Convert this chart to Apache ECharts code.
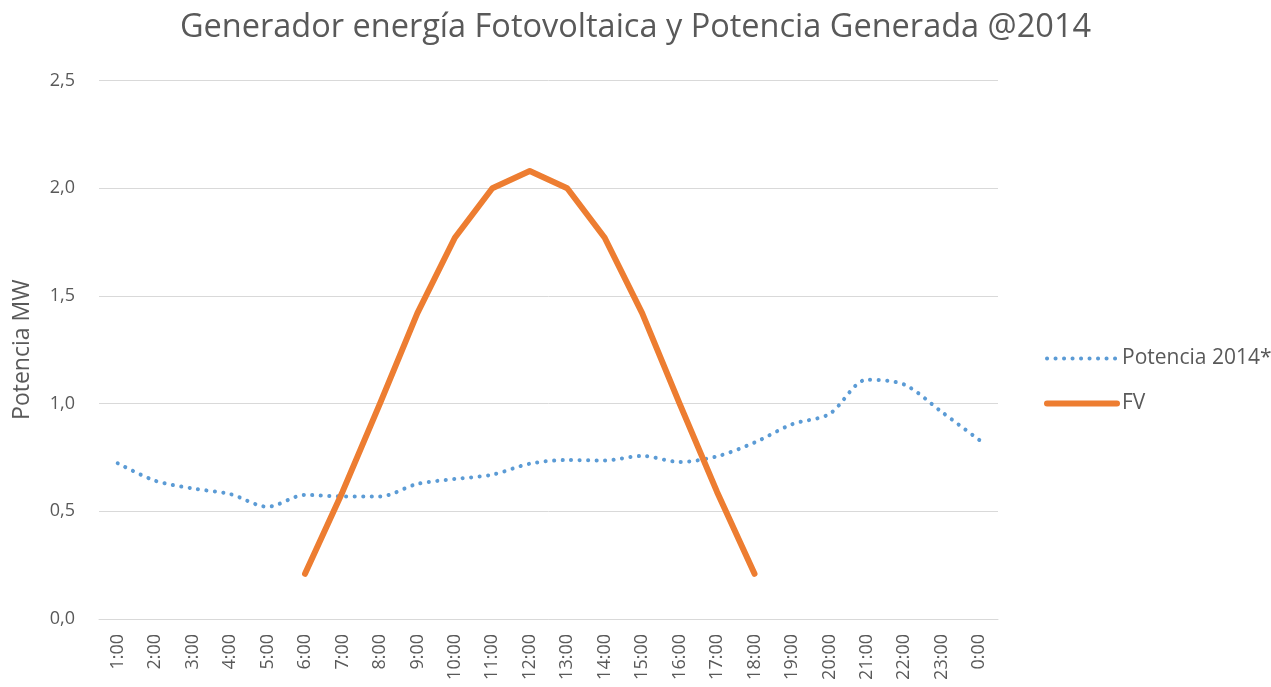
<!DOCTYPE html>
<html>
<head>
<meta charset="utf-8">
<script src="https://cdn.jsdelivr.net/npm/echarts@6/dist/echarts.min.js"></script>
<style>
	html, body { margin: 0; padding: 0; background: #fff; }
	#chart { width: 1271px; height: 687px; }
</style>
</head>
<body>
<div id="chart"></div>
<script>
var hours = ['1:00', '2:00', '3:00', '4:00', '5:00', '6:00', '7:00', '8:00', '9:00', '10:00', '11:00', '12:00',
	'13:00', '14:00', '15:00', '16:00', '17:00', '18:00', '19:00', '20:00', '21:00', '22:00', '23:00', '0:00'];
var potencia2014 = [0.723, 0.642, 0.606, 0.580, 0.521, 0.576, 0.569, 0.569, 0.627, 0.650, 0.670, 0.721,
	0.738, 0.736, 0.757, 0.729, 0.755, 0.819, 0.904, 0.952, 1.111, 1.088, 0.961, 0.831];
var fv = [null, null, null, null, null, 0.21, 0.59, 1.0, 1.42, 1.77, 2.0, 2.08,
	2.0, 1.77, 1.42, 1.0, 0.59, 0.21, null, null, null, null, null, null];

var textColor = '#595959';
var fontName = '"Open Sans", "Liberation Sans", sans-serif';

var chart = echarts.init(document.getElementById('chart'));
var option = {
	animation: false,
	title: {
		text: 'Generador energía Fotovoltaica y Potencia Generada @2014',
		left: 'center',
		top: 6,
		textStyle: { color: textColor, fontSize: 32.5, fontWeight: 'normal', fontFamily: fontName }
	},
	legend: {
		orient: 'vertical',
		left: 1039,
		top: 343,
		itemWidth: 70,
		itemHeight: 20,
		itemGap: 24,
		itemStyle: { opacity: 0 },
		lineStyle: { width: 'inherit' },
		textStyle: { color: textColor, fontSize: 21, fontFamily: fontName },
		data: ['Potencia 2014*', 'FV']
	},
	grid: { left: 99, right: 273, top: 80.5, bottom: 68 },
	xAxis: {
		type: 'category',
		data: hours,
		boundaryGap: true,
		axisLine: { lineStyle: { color: '#D9D9D9', width: 1 } },
		axisTick: { show: false },
		axisLabel: { rotate: 90, color: textColor, fontSize: 18, fontFamily: fontName, margin: 15, interval: 0 }
	},
	yAxis: {
		type: 'value',
		min: 0,
		max: 2.5,
		interval: 0.5,
		name: 'Potencia MW',
		nameLocation: 'middle',
		nameGap: 65,
		nameTextStyle: { color: textColor, fontSize: 23, fontFamily: fontName },
		axisLine: { show: false },
		axisTick: { show: false },
		axisLabel: {
			color: textColor, fontSize: 18, fontFamily: fontName, margin: 24,
			formatter: function (v) { return v.toFixed(1).replace('.', ','); }
		},
		splitLine: { lineStyle: { color: '#D9D9D9', width: 1 } }
	},
	series: [
		{
			name: 'Potencia 2014*',
			type: 'line',
			data: potencia2014,
			smooth: 0.3,
			symbol: 'none',
			color: '#5B9BD5',
			lineStyle: { color: '#5B9BD5', width: 4, type: [0.1, 8.4], cap: 'round' }
		},
		{
			name: 'FV',
			type: 'line',
			data: fv,
			symbol: 'none',
			color: '#ED7D31',
			lineStyle: { color: '#ED7D31', width: 6, cap: 'round', join: 'round' }
		}
	]
};
chart.setOption(option);
</script>
</body>
</html>
